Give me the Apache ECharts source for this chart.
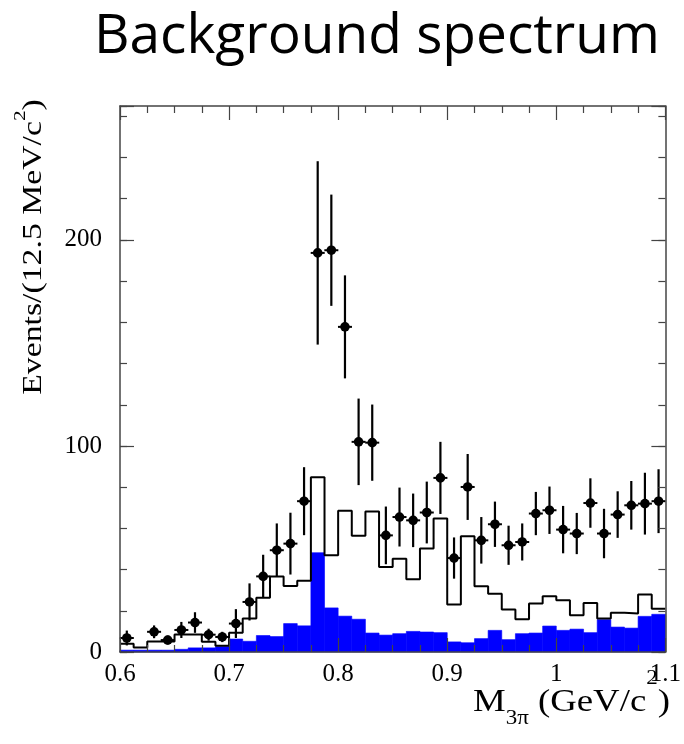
<!DOCTYPE html>
<html><head><meta charset="utf-8">
<script src="https://cdn.jsdelivr.net/npm/echarts@6/dist/echarts.min.js"></script>
<style>html,body{margin:0;padding:0;background:#fff}#c{width:684px;height:744px}</style>
</head><body><div id="c"></div>
<script>
// Bin edges of M_3pi (GeV/c^2), 12.5 MeV bins
const binEdges = [0.6, 0.6125, 0.625, 0.6375, 0.65, 0.6625, 0.675, 0.6875, 0.7, 0.7125,
  0.725, 0.7375, 0.75, 0.7625, 0.775, 0.7875, 0.8, 0.8125, 0.825, 0.8375,
  0.85, 0.8625, 0.875, 0.8875, 0.9, 0.9125, 0.925, 0.9375, 0.95, 0.9625,
  0.975, 0.9875, 1.0, 1.0125, 1.025, 1.0375, 1.05, 1.0625, 1.075, 1.0875, 1.1];
// Data points (events per bin) and their errors
const dataCounts = [6.8, null, 9.8, 5.8, 10.7, 14.3, 8.4, 7.3, 13.8, 24.3,
  36.7, 49.4, 52.6, 73.2, 193.7, 195, 157.8, 102, 101.6, 56.6,
  65.5, 63.9, 67.7, 84.5, 45.6, 80.1, 54.2, 62, 51.8, 53.4,
  67.2, 68.8, 59.4, 57.5, 72.3, 57.5, 66.7, 71.2, 72, 73.2];
const dataErrors = [3.6, null, 3.1, 2.2, 3.9, 5, 2.9, 2.5, 7, 9,
  10.5, 13, 15, 16.5, 44.5, 27, 25, 21, 18.5, 14,
  14.3, 13, 15, 17.5, 10, 16, 11.3, 11, 9.5, 9,
  10.5, 11.5, 11.5, 10, 12, 12, 11.3, 11.8, 15, 15.5];
// Open (black outline) histogram
const histTotal = [4, 2.2, 5.1, 5.1, 8.5, 8.5, 5, 3, 9.4, 16.2,
  26.3, 36.7, 32, 34.6, 84.8, 46.9, 68.5, 56.4, 68.2, 41.3,
  45.3, 35.3, 50.2, 64.8, 23, 56.2, 31.9, 28.3, 20.6, 15.9,
  23.5, 27, 25.1, 17.8, 23.8, 16.3, 19.1, 18.7, 27.9, 21];
// Filled (blue) histogram
const histBlue = [0.9, 0.9, 0.9, 0.9, 1.3, 2, 2, 2.6, 6.3, 5.2,
  8, 7.5, 13.8, 12.7, 48.2, 21.4, 17.4, 15.9, 9.2, 8.2,
  8.9, 10, 9.7, 9.4, 4.9, 4.5, 6.5, 10.5, 6, 8.9,
  9.2, 12.6, 10.5, 11.1, 9.4, 15.7, 12.1, 11.6, 17.3, 18.3];
const xMin = 0.6, xMax = 1.1, xStep = 0.1;
const yMin = 0, yMax = 265, yMajor = 100, yMinor = 20;

const serif = 'Liberation Serif';
const axisColor = '#444';
const chart = echarts.init(document.getElementById('c'), null, {renderer: 'canvas'});

function xAxisDef(pos, labels) {
  return {
    type: 'value', min: xMin, max: xMax, interval: xStep, position: pos, z: 10,
    axisLine: {show: true, onZero: false, lineStyle: {color: axisColor, width: 1.5}},
    axisTick: {show: true, inside: true, length: 14, lineStyle: {color: axisColor, width: 1.2}},
    minorTick: {show: true, splitNumber: 4, length: 7, lineStyle: {color: axisColor, width: 1.2}},
    splitLine: {show: false},
    axisLabel: {show: labels, margin: 10, fontFamily: serif, fontSize: 25, color: '#000',
      formatter: v => String(+v.toFixed(2))}
  };
}
function yAxisDef(pos, step, len, labels, line) {
  return {
    type: 'value', min: yMin, max: yMax, interval: step, position: pos, z: 10,
    axisLine: {show: line, onZero: false, lineStyle: {color: axisColor, width: 1.5}},
    axisTick: {show: true, inside: true, length: len, lineStyle: {color: axisColor, width: 1.2}},
    splitLine: {show: false},
    axisLabel: {show: labels, margin: 18, fontFamily: serif, fontSize: 25, color: '#000',
      formatter: v => (Math.abs(v % yMajor) < 1e-6 ? String(v) : '')}
  };
}

const blueData = histBlue.map((v, i) => [binEdges[i], binEdges[i + 1], v]);
const stepData = histTotal.map((v, i) => [binEdges[i], v]).concat([[binEdges[binEdges.length - 1], histTotal[histTotal.length - 1]]]);
const pointData = [];
dataCounts.forEach((v, i) => {
  if (v !== null) pointData.push([(binEdges[i] + binEdges[i + 1]) / 2, v, dataErrors[i]]);
});

chart.setOption({
  animation: false,
  backgroundColor: '#fff',
  title: {
    text: 'Background spectrum', left: 89, top: 5,
    textStyle: {fontFamily: 'Open Sans', fontSize: 55, fontWeight: 'normal', color: '#000'}
  },
  grid: {left: 120, right: 18, top: 106, bottom: 92, containLabel: false},
  xAxis: [xAxisDef('bottom', true), xAxisDef('top', false)],
  yAxis: [
    yAxisDef('left', yMajor, 14, true, true),
    yAxisDef('left', yMinor, 7, false, false),
    yAxisDef('right', yMajor, 14, false, true),
    yAxisDef('right', yMinor, 7, false, false)
  ],
  series: [
    {
      type: 'custom', name: 'blue', xAxisIndex: 0, yAxisIndex: 0, z: 2,
      data: blueData, encode: {x: [0, 1], y: 2},
      renderItem: (params, api) => {
        const p0 = api.coord([api.value(0), api.value(2)]);
        const p1 = api.coord([api.value(1), 0]);
        return {type: 'rect', shape: {x: p0[0], y: p0[1], width: p1[0] - p0[0], height: p1[1] - p0[1]},
          style: {fill: '#0000ff', stroke: '#0000ff', lineWidth: 0.6}};
      }
    },
    {
      type: 'line', name: 'total', xAxisIndex: 0, yAxisIndex: 0, z: 3,
      step: 'end', showSymbol: false, symbol: 'none', data: stepData,
      lineStyle: {color: '#000', width: 2}
    },
    {
      type: 'custom', name: 'data', xAxisIndex: 0, yAxisIndex: 0, z: 4,
      data: pointData, encode: {x: 0, y: 1},
      renderItem: (params, api) => {
        const x = api.value(0), v = api.value(1), e = api.value(2);
        const c = api.coord([x, v]);
        const t = api.coord([x, v + e]);
        const b = api.coord([x, Math.max(v - e, 0)]);
        return {type: 'group', children: [
          {type: 'line', shape: {x1: c[0], y1: t[1], x2: c[0], y2: b[1]}, style: {stroke: '#000', lineWidth: 2.2}},
          {type: 'line', shape: {x1: c[0] - 7, y1: c[1], x2: c[0] + 7, y2: c[1]}, style: {stroke: '#000', lineWidth: 2}},
          {type: 'circle', shape: {cx: c[0], cy: c[1], r: 4.8}, style: {fill: '#000'}}
        ]};
      }
    }
  ],
  graphic: [
    {
      type: 'text', x: 30, y: 247, rotation: Math.PI / 2, scaleX: 1.25, scaleY: 1,
      style: {
        text: '{a|Events/(12.5 MeV/c}{s|2}{a|)}',
        align: 'center', verticalAlign: 'middle',
        rich: {
          a: {fontFamily: serif, fontSize: 27, fill: '#000', verticalAlign: 'top', padding: [8, 0, 0, 0]},
          s: {fontFamily: serif, fontSize: 17, fill: '#000', verticalAlign: 'top'}
        }
      }
    },
    {
      type: 'text', x: 670, y: 669, scaleX: 1.15, scaleY: 1,
      style: {
        text: '{a|M}{b|3π}{a| (GeV/c}{s|2}{a|)}',
        align: 'right', verticalAlign: 'top',
        rich: {
          a: {fontFamily: serif, fontSize: 32, fill: '#000', verticalAlign: 'top', padding: [18, 0, 0, 0]},
          b: {fontFamily: serif, fontSize: 20, fill: '#000', verticalAlign: 'top', padding: [40, 0, 0, 0]},
          s: {fontFamily: serif, fontSize: 20, fill: '#000', verticalAlign: 'top'}
        }
      }
    }
  ]
});
</script>
</body></html>
